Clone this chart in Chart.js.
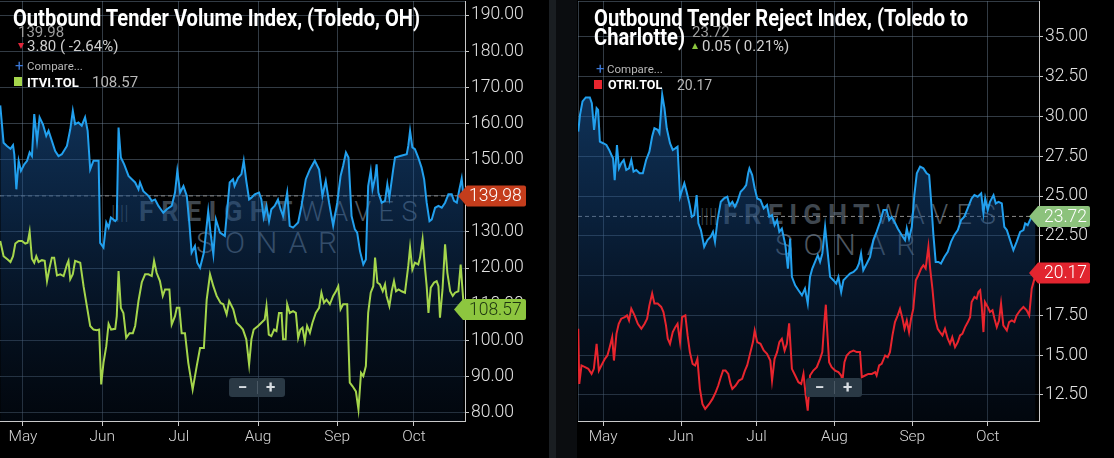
<!DOCTYPE html>
<html>
<head>
<meta charset="utf-8">
<script src="https://cdn.jsdelivr.net/npm/chart.js@4.4.0/dist/chart.umd.min.js"></script>
<style>
body{margin:0;background:#000;width:1114px;height:458px;overflow:hidden;position:relative;font-family:Roboto,sans-serif}
canvas{position:absolute;top:0;z-index:1}
.t{position:absolute;white-space:nowrap;line-height:1;z-index:2}
.title{color:#fff;font-weight:bold;font-size:23px;transform-origin:0 0}
.wm{position:absolute;white-space:nowrap;line-height:1;z-index:0}
.zoom{position:absolute;z-index:2;top:378px;width:56px;height:19px;background:#2a3945;border-radius:3px;color:#d8dde2;font-size:17px;font-weight:bold}
.zoom span{position:absolute;top:0;line-height:19px}
.zoom i{position:absolute;left:28px;top:3px;width:1px;height:13px;background:#4a5864}
.sq{position:absolute;width:8px;height:9px;z-index:2}
</style>
</head>
<body>

<!-- separator between the two panels -->
<div style="position:absolute;left:549px;top:0;width:7px;height:458px;background:#1a1e22"></div>
<div style="position:absolute;left:556px;top:0;width:21px;height:458px;background:#0b0d10"></div>

<!-- watermarks (behind the canvases) -->
<div class="wm" style="left:111px;top:203px;font-size:20px;color:#3c444c;font-weight:300">||||</div>
<div class="wm fit" data-w="161" style="left:139px;top:199px;font-size:27px;color:#3f474f;font-weight:bold">FREIGHT</div>
<div class="wm fit" data-w="125" style="left:300px;top:199px;font-size:27px;color:#4e565f;font-weight:300">WAVES</div>
<div class="wm fit" data-w="152" style="left:196px;top:228px;font-size:30px;color:#4e565f;font-weight:300">SONAR</div>

<div class="wm" style="left:700px;top:206px;font-size:20px;color:#3c444c;font-weight:300">||||</div>
<div class="wm fit" data-w="153" style="left:723px;top:202px;font-size:27px;color:#3f474f;font-weight:bold">FREIGHT</div>
<div class="wm fit" data-w="128" style="left:876px;top:202px;font-size:27px;color:#4e565f;font-weight:300">WAVES</div>
<div class="wm fit" data-w="151" style="left:775px;top:230px;font-size:30px;color:#4e565f;font-weight:300">SONAR</div>

<canvas id="volChart" width="549" height="458" style="left:0"></canvas>
<canvas id="rejChart" width="537" height="458" style="left:577px"></canvas>

<!-- left header -->
<div class="t" style="left:18px;top:25px;font-size:15px;color:#9c9c9c">139.98</div>
<div class="t title fit-scale" data-w="407" style="left:13px;top:6.6px">Outbound Tender Volume Index, (Toledo, OH)</div>
<div style="position:absolute;z-index:2;left:18px;top:43px;width:0;height:0;border-left:3px solid transparent;border-right:3px solid transparent;border-top:6px solid #e0263a"></div>
<div class="t" style="left:27px;top:39px;font-size:15px;color:#cfcfcf">3.80 ( -2.64%)</div>
<div class="t" style="left:15px;top:59px;font-size:15px;color:#3b78d8">+</div>
<div class="t" style="left:27px;top:61px;font-size:11.5px;color:#b8b8b8">Compare...</div>
<div class="sq" style="left:14px;top:77px;background:#a5d64c"></div>
<div class="t" style="left:27px;top:75.5px;font-size:13px;color:#fff;font-weight:bold">ITVI.TOL</div>
<div class="t" style="left:92px;top:74.5px;font-size:15px;color:#b8b8b8">108.57</div>
<div class="zoom" style="left:229px"><span style="left:9px">&minus;</span><i></i><span style="left:37px">+</span></div>

<!-- right header -->
<div class="t" style="left:692px;top:24.5px;font-size:15px;color:#9c9c9c">23.72</div>
<div class="t title fit-scale" data-w="374" style="left:594px;top:6.6px">Outbound Tender Reject Index, (Toledo to</div>
<div class="t title fit-scale" data-w="91" style="left:594px;top:25.8px">Charlotte)</div>
<div style="position:absolute;z-index:2;left:692px;top:43px;width:0;height:0;border-left:3px solid transparent;border-right:3px solid transparent;border-bottom:6px solid #8cc63e"></div>
<div class="t" style="left:702px;top:38.5px;font-size:15px;color:#cfcfcf">0.05 ( 0.21%)</div>
<div class="t" style="left:596px;top:62px;font-size:15px;color:#3b78d8">+</div>
<div class="t" style="left:607px;top:64px;font-size:11.5px;color:#b8b8b8">Compare...</div>
<div class="sq" style="left:594px;top:80px;background:#e8252e"></div>
<div class="t" style="left:608px;top:78.5px;font-size:12.5px;color:#fff;font-weight:bold">OTRI.TOL</div>
<div class="t" style="left:677px;top:77.5px;font-size:14px;color:#b8b8b8">20.17</div>
<div class="zoom" style="left:806px"><span style="left:9px">&minus;</span><i></i><span style="left:37px">+</span></div>

<script>
// x axis: days counted from May 1
const monthDays = [0, 31, 61, 92, 123, 153];
const monthNames = ['May', 'Jun', 'Jul', 'Aug', 'Sep', 'Oct'];
const volTicks = [80, 90, 100, 110, 120, 130, 140, 150, 160, 170, 180, 190];
const rejTicks = [12.5, 15, 17.5, 20, 22.5, 25, 27.5, 30, 32.5, 35];

// Outbound Tender Volume Index, Toledo (blue)
const volDays = [-8.9,-7.6,-6.3,-4.9,-3.9,-3.4,-2.6,-1.7,-0.8,0.5,1.6,2.6,3.5,4.4,5.5,6.5,7.8,9.1,10.0,11.3,12.6,13.9,15.2,17.2,18.5,19.5,20.4,21.7,23,24.3,25.3,26.3,27.6,29.6,30.2,31.5,32.6,33.5,34.4,36.1,36.7,37.4,38.3,39.6,41.3,42.6,43.9,45.2,45.8,47.1,49.1,50.4,51.7,53,54.9,56.3,58.2,59.5,60.4,61.5,62.8,64.1,65.1,66,67.3,68.2,69.3,70.8,72.5,73.4,74.5,75.5,77.1,79,
  80.9,82.2,82.8,84.2,85.5,86.4,87.4,88.5,89.4,90.7,92.4,93.3,94.2,95.3,96.3,97.2,98.5,99.8,100.8,101.8,102.5,103.4,104.4,105.7,107.7,109,110.7,112.3,114.2,115.9,117.2,118.5,119.8,121.4,123,124.3,125.3,126.4,127.4,128.6,129.9,130.8,131.9,133.2,134.2,135.1,136.1,136.8,137.8,138.4,139.1,140.4,141.7,142.6,143.4,144.9,145.6,147.6,150.2,150.8,151.5,152.4,153.4,154.7,156,157,158,159.1,160,161.3,162.6,163.9,165.2,166.5,167.8,168.7,169.8,170.8,171.7,172.4];
const volValues = [165,154.7,153.8,153,154,151.5,141.8,149.7,146.9,148.7,149.7,152,151,162.6,155.2,161.7,159.8,156.6,158,155.2,152.4,151,151.5,153.8,158.4,163.5,159.8,160.3,159.4,161.7,158,147.3,149.7,149.7,127,125.7,132.6,131.2,134,133,133.5,158.9,150.6,148.7,145.5,144.6,143.7,141.8,143.7,141.3,140,138.6,139,137.2,135.3,136.3,137.2,140.9,146.9,140.9,142.7,140,132.6,124.3,126.1,121.5,120.1,124.3,135.8,129.8,123.8,133.5,129.8,128.9,
  143.7,144.6,142.7,145,146,149.7,144.1,139,139.5,140.4,140.9,139,134,137.2,133,136.3,137.2,139,136.3,134.4,137.2,140.9,131.7,131.2,132.6,137.2,144.6,147.3,149.7,147.3,140,144.1,138.1,131.7,138.1,145.5,148.3,152,150.6,134.4,130.7,129.8,124.7,121,122.4,142.7,146.9,141.8,145,148.7,140.9,138.1,138.6,143.2,139.5,147.3,150.6,151,151.5,153.8,158,153.4,152.9,150.6,147.8,144.6,138.1,133,133.5,136.7,137.2,136.7,138.1,140.4,140.4,138.6,138.1,141.8,144.8,139.98];

// ITVI.TOL (green)
const itviDays = [-8.9,-7.6,-6,-4.9,-3.9,-3,-1.7,-0.4,0.9,1.8,2.6,3.5,4.4,5.2,6.1,7.4,8.5,9.4,10.4,11.3,12.2,13.3,14.6,15.9,17.2,17.8,18.5,19.5,20.4,22.4,23.7,25,26.3,27.6,28.9,29.8,30.6,31.5,32.6,33.5,34.5,36.1,36.7,37.4,38.3,39.3,40.4,41.7,43,43.9,45.2,46.5,47.8,49.1,50.4,51.3,52.3,53.6,54.7,55.6,57.3,58.2,59.5,60.2,61.2,62.1,63.4,64.7,66.4,68,69.3,70.8,71.9,73.2,74.5,75.8,77.3,78.4,79.7,80.7,82.3,83.6,84.9,
  86.1,87.4,88.5,89.4,90.3,92,93.3,94.6,95.3,96.2,97.2,98.3,99.2,100.2,101.2,101.8,102.8,103.4,104.4,105.7,106.8,107.7,108.6,109.4,110.3,111.2,112.3,113.3,114.6,115.9,116.8,117.8,118.8,120.1,121.4,122.5,123.4,124.3,125.3,126.9,127.9,129,130.3,131.3,132.3,133.2,134.2,135.1,136.1,137.1,137.8,138.7,139.7,140.8,141.7,142.3,143.4,144.3,145.2,146,147,148.2,149.5,150.8,151.5,152.4,153.4,154.7,155.4,156.4,157.4,158,158.7,159.6,160.9,161.9,162.6,163.2,164.2,165.2,166.1,167.2,168.2,169.1,170.4,171.3,172.1,172.6];
const itviValues = [127.5,123.3,122.4,121.7,123.3,126.8,127.5,127.5,126.8,127,130.1,122.6,121.5,123.3,121.7,122.2,122,116.4,120.1,122.9,122.9,118,118.3,117.8,121,122,116.9,118.3,122,121.5,115,109.5,104,103,102.8,103,87.8,93.8,98.4,104.6,103,103.2,106.7,119.2,109,107.6,100.7,102,102,104,110.9,116.1,118.3,118.3,117.8,122,118.7,116.4,112.3,114.1,114.1,104.4,106.7,109,109,102,102,93.8,86.4,92.9,97.9,97.9,111.3,118.3,115,112.3,110.4,110,107.2,110.9,108.6,104.9,104,
  103,100.3,93.3,100.3,103,104,104.9,105.8,109.5,101.6,101.2,103,102.6,107.6,107.6,100.3,100.3,110,107.6,108.1,107.6,100.7,103,103.5,99.8,104,102.1,104.9,107.6,109,113.2,110.4,111.3,110,112.3,113.6,115,108.6,110,110,88.3,87.3,85.9,80.9,91,90.1,92.9,107.6,113.2,115,122.9,116,115.5,113.6,115.5,112.3,109.5,113.6,116.4,113.6,114.1,113.6,113.2,120.6,125.7,119.6,121.5,121,122.9,128,119.6,115,107.6,114.6,116,116.4,115,106.3,114.1,126.6,118.7,113.6,112.3,113.2,113.6,121,113.2,108.57];

// Outbound Tender Reject Index, Toledo to Charlotte (blue)
const rejDays = [-9.9,-9.2,-8.2,-6.9,-5.3,-4.5,-3.6,-2.6,-2,-1.3,0,1.3,2.4,3.3,3.95,4.6,5.5,6.3,7.2,8.2,9.2,10.3,11.2,12.1,13.2,14.5,15.8,17.1,18.4,19.5,20.4,21.7,22.4,23.5,24.4,25.3,26.6,27.7,28.7,29.6,30.6,31.4,32.3,33.2,34.3,35.3,36.2,37.2,37.9,38.9,40.2,41.5,42.8,43.7,44.5,45.5,46.8,48.1,49.4,50.3,51.4,52.4,53.4,54.7,56,56.9,57.7,58.2,59.3,60.3,61.3,62.6,63.9,65.2,66.1,67.2,68.2,69.2,70.1,71.1,72.5,73.5,74.4,75.1,76.4,77.7,79.1,
  80.3,81.4,82.3,83.2,84.3,85.4,86.3,87.2,88.3,89.3,90.3,91.6,92.7,93.6,94.7,95.6,96.9,98.2,99.6,100.9,101.8,102.6,103.5,104.9,106.2,107.5,108.8,110.2,111.5,112.8,113.8,114.8,115.9,117.2,118.8,120.1,120.8,121.7,122.8,123.8,124.8,126.1,127.4,128.7,129.7,130.5,131.4,132.3,133.4,134.4,135.8,137.1,138.4,139.7,141.1,142.4,143.7,145.3,146.6,147.7,149,150.4,151.3,152,153,153.9,155.3,156.2,157.3,158.6,159.6,160.6,161.9,163.2,164.5,165.9,167.2,167.9,168.9,169.8,170.5,172];
const rejValues = [29.05,30.1,30.95,31.2,31.2,30.84,29.16,30.53,30.42,28.42,28.32,28.21,27.9,27.58,27.37,26.0,28.21,26.74,27.06,27.27,26.64,26.74,27.27,26.53,26.64,26.43,26.43,27.27,27.79,28.74,29.26,29.16,28.95,31.37,30.53,29.26,28.32,27.9,28.0,28.1,24.96,25.38,25.8,25.27,24.54,23.7,23.8,25.06,23.28,22.86,21.81,22.23,22.44,22.75,22.12,23.49,24.64,24.85,24.96,24.43,24.64,24.33,24.64,25.27,25.48,25.69,26.43,26.74,26.32,25.48,24.85,24.75,24.22,24.43,23.7,23.8,23.17,23.49,22.75,22.96,21.91,20.44,22.33,19.92,19.39,19.08,18.76,
  19.18,18.24,19.92,20.44,20.86,21.28,20.86,21.39,23.07,21.49,19.92,19.71,19.5,19.92,18.97,19.71,19.92,20.13,20.23,20.44,20.76,21.39,20.34,20.76,21.18,22.23,22.75,23.38,24.12,24.12,23.49,23.7,23.38,22.96,22.54,22.23,22.96,22.33,23.07,25.06,26.43,26.85,26.74,26.43,26.32,24.64,22.54,20.86,20.86,20.76,21.18,21.49,22.12,22.54,22.86,23.49,23.7,24.33,24.85,25.06,24.96,25.17,23.91,24.85,24.12,24.64,25.06,24.54,24.64,24.54,23.07,22.86,22.23,21.6,22.12,22.75,22.86,23.28,23.17,23.49,23.7,23.72];

// OTRI.TOL (red)
const otriDays = [-9.9,-9.5,-8.6,-7.2,-5.9,-4.6,-3.7,-2.6,-1.7,-0.7,0.7,1.7,2.6,3.6,4.3,5.3,6.2,7.2,8.6,9.5,10.3,11.2,12.5,13.8,15.2,16.5,17.5,18.4,19.5,20.4,21.7,23.1,24,25,25.7,26.6,27.7,28.7,29.6,30.6,31.4,32.7,33.6,34.5,35.6,36.6,37.5,38.5,39.5,40.6,42.2,43.5,44.8,45.8,46.8,47.7,48.7,49.8,50.7,51.4,52.7,54,55.3,56.4,57.3,58.6,59.6,60.3,61.3,62.6,63.9,65.2,66.5,67.2,68.2,69.2,70.1,71.1,72.2,73.1,74,75.1,76.4,77.7,78.8,79.7,80.6,81.4,
  82.3,83.6,85,86.3,87.2,88,88.6,89.1,89.9,90.9,92.3,93.6,94.7,95.2,96,96.9,98.2,99.6,100.9,102.2,102.9,104.2,105.5,106.9,108.2,108.8,109.8,110.8,112.2,113.2,114.1,115.1,116.1,117.2,118.1,119.1,119.9,120.8,121.7,122.5,123.4,124.4,125.4,126.5,127.4,128.3,129.4,130.1,131,132.1,133.1,134,135,136,137.1,138,138.9,140,141.1,142,142.9,144,145.1,146,146.6,147.7,148.6,149.3,150,150.6,151.3,151.9,153,153.9,154.9,155.7,156.6,157.5,158.3,159.2,160.6,161.5,162.6,163.6,164.5,165.9,167.2,168.5,169.5,170.5,171.6,172.5];
const otriValues = [16.66,13.19,14.35,14.24,14.14,13.82,14.14,15.71,14.03,14.35,14.77,14.98,15.5,16.13,14.66,16.34,16.97,17.29,17.39,17.5,17.18,17.92,17.5,16.97,16.66,16.97,17.29,18.13,18.87,18.24,18.24,18.03,17.71,16.87,16.03,15.71,16.45,16.76,16.97,15.82,17.39,17.5,16.24,15.19,14.45,14.35,14.77,12.88,11.93,11.62,11.93,12.25,12.67,13.09,13.61,14.03,14.03,13.82,13.19,12.88,13.09,13.4,13.51,14.03,14.35,15.19,15.82,16.55,15.82,15.71,15.29,15.08,14.66,13.4,14.77,15.19,15.82,16.03,15.29,15.71,17.0,14.14,13.72,13.3,13.19,13.82,12.46,11.51,
  13.72,14.03,14.24,14.77,15.19,17.08,18.17,16.66,14.56,14.24,14.03,13.93,13.72,13.4,14.56,14.98,15.19,15.29,15.19,15.19,13.61,13.72,13.82,13.82,13.93,13.72,14.35,14.45,14.98,14.87,15.19,16.24,17.08,17.5,17.92,17.29,16.66,17.18,16.45,17.29,17.92,19.71,20.02,20.44,20.65,20.44,21.81,20.44,19.18,17.29,16.66,16.45,16.24,16.66,16.03,15.71,16.13,15.5,15.82,16.24,16.34,16.76,17.08,17.39,18.34,18.66,18.55,18.97,19.08,18.13,16.45,18.34,18.03,17.71,17.82,17.29,16.76,17.18,18.24,16.87,16.55,17.08,17.18,17.08,17.5,17.82,18.03,17.82,17.5,19.18,19.81,20.17];

function pts(days, vals){
  return days.map((d, i) => ({x: d, y: vals[i]}));
}

function fillGradient(c){
  const a = c.chart.chartArea;
  if(!a) return 'transparent';
  const g = c.chart.ctx.createLinearGradient(0, a.top, 0, a.bottom);
  g.addColorStop(0, 'rgba(34,108,185,0.62)');
  g.addColorStop(0.5, 'rgba(22,74,135,0.45)');
  g.addColorStop(1, 'rgba(6,22,45,0.3)');
  return g;
}

function drawTag(ctx, t, y){
  const h = 21, top = y - h/2, r = 2;
  ctx.beginPath();
  ctx.moveTo(t.tip, y);
  ctx.lineTo(t.tip + 9, top);
  ctx.lineTo(t.right - r, top);
  ctx.quadraticCurveTo(t.right, top, t.right, top + r);
  ctx.lineTo(t.right, top + h - r);
  ctx.quadraticCurveTo(t.right, top + h, t.right - r, top + h);
  ctx.lineTo(t.tip + 9, top + h);
  ctx.closePath();
  ctx.fillStyle = t.bg;
  ctx.fill();
  ctx.fillStyle = t.fg;
  ctx.font = '300 17.5px Roboto';
  ctx.textAlign = 'left';
  ctx.textBaseline = 'middle';
  ctx.fillText(t.text, t.textX, y + 1);
}

const extras = {
  id: 'extras',
  beforeDatasetsDraw(chart, args, o){
    const {ctx, chartArea: a, scales} = chart;
    ctx.save();
    // top and left frame lines
    ctx.strokeStyle = 'rgba(110,130,150,0.45)';
    ctx.lineWidth = 1;
    ctx.beginPath();
    ctx.moveTo(a.left, a.top + 0.5); ctx.lineTo(a.right, a.top + 0.5);
    if(o.leftLine){ ctx.moveTo(a.left + 0.5, a.top); ctx.lineTo(a.left + 0.5, a.bottom); }
    ctx.stroke();
    // dashed last-value line
    const y = scales.y.getPixelForValue(o.dash);
    ctx.strokeStyle = '#8a8a8a';
    ctx.setLineDash([4, 3]);
    ctx.beginPath(); ctx.moveTo(a.left, y); ctx.lineTo(a.right, y); ctx.stroke();
    ctx.restore();
  },
  afterDraw(chart, args, o){
    const {ctx, scales} = chart;
    ctx.save();
    o.tags.forEach(t => drawTag(ctx, t, scales.y.getPixelForValue(t.value)));
    ctx.restore();
  }
};

function noPad(s){
  s.paddingTop = 0; s.paddingBottom = 0; s.paddingLeft = 0; s.paddingRight = 0;
}

function makeChart(id, cfg){
  const gridColor = 'rgba(110,130,150,0.45)';
  return new Chart(document.getElementById(id), {
    type: 'line',
    data: {
      datasets: [
        {data: cfg.second, borderColor: cfg.secondColor, borderWidth: 2, pointRadius: 0, fill: false},
        {data: cfg.main, borderColor: '#22a0ee', borderWidth: 2, pointRadius: 0, fill: 'start', backgroundColor: fillGradient}
      ]
    },
    options: {
      responsive: false,
      animation: false,
      layout: {autoPadding: false, padding: {top: 1, left: cfg.padLeft, right: 0, bottom: 0}},
      plugins: {
        legend: {display: false},
        tooltip: {enabled: false},
        extras: {dash: cfg.dash, tags: cfg.tags, leftLine: cfg.leftLine}
      },
      scales: {
        x: {
          type: 'linear',
          min: cfg.xMin, max: cfg.xMax,
          afterBuildTicks: s => { s.ticks = monthDays.map(v => ({value: v})); },
          afterFit: s => { s.height = 37; noPad(s); },
          ticks: {
            autoSkip: false, maxRotation: 0, padding: 2,
            color: '#d6d6d6', font: {family: 'Roboto', size: 15.5, weight: '300'},
            callback: v => monthNames[monthDays.indexOf(v)]
          },
          grid: {color: gridColor, tickColor: '#c9c9c9', tickLength: 5},
          border: {color: '#c9c9c9'}
        },
        y: {
          position: 'right',
          min: cfg.yMin, max: cfg.yMax,
          afterBuildTicks: s => { s.ticks = cfg.yTicks.map(v => ({value: v})); },
          afterFit: s => { s.width = cfg.axisWidth; noPad(s); },
          ticks: {
            padding: 2, color: '#e2e2e2', font: {family: 'Roboto', size: 17.5, weight: '300'},
            callback: v => v.toFixed(2)
          },
          grid: {color: gridColor, tickColor: '#c9c9c9', tickLength: 4},
          border: {color: '#c9c9c9'}
        }
      }
    },
    plugins: [extras]
  });
}

makeChart('volChart', {
  main: pts(volDays, volValues),
  second: pts(itviDays, itviValues),
  secondColor: '#a5d64c',
  xMin: -9, xMax: 173,
  yMin: 77.7, yMax: 193.9, yTicks: volTicks,
  axisWidth: 84, padLeft: 0, leftLine: false,
  dash: 139.98,
  tags: [
    {value: 139.98, text: '139.98', tip: 458, right: 526, textX: 469, bg: '#c43d1c', fg: '#ffffff'},
    {value: 108.57, text: '108.57', tip: 454, right: 526, textX: 469, bg: '#8dc63f', fg: '#1d3510'}
  ]
});

makeChart('rejChart', {
  main: pts(rejDays, rejValues),
  second: pts(otriDays, otriValues),
  secondColor: '#e8252e',
  xMin: -10, xMax: 173.4,
  yMin: 10.86, yMax: 37.26, yTicks: rejTicks,
  axisWidth: 75, padLeft: 1, leftLine: true,
  dash: 23.72,
  tags: [
    {value: 23.72, text: '23.72', tip: 452, right: 513, textX: 467, bg: '#8cc27c', fg: '#ffffff'},
    {value: 20.17, text: '20.17', tip: 452, right: 513, textX: 467, bg: '#e2252f', fg: '#ffffff'}
  ]
});

// condensed look for titles, spread for watermark words
document.querySelectorAll('.fit-scale').forEach(el => {
  const w = el.getBoundingClientRect().width;
  el.style.transform = 'scaleX(' + (el.dataset.w / w) + ')';
});
document.querySelectorAll('.fit').forEach(el => {
  const w = el.getBoundingClientRect().width;
  const n = el.textContent.length;
  el.style.letterSpacing = ((el.dataset.w - w) / n) + 'px';
});
</script>
</body>
</html>
